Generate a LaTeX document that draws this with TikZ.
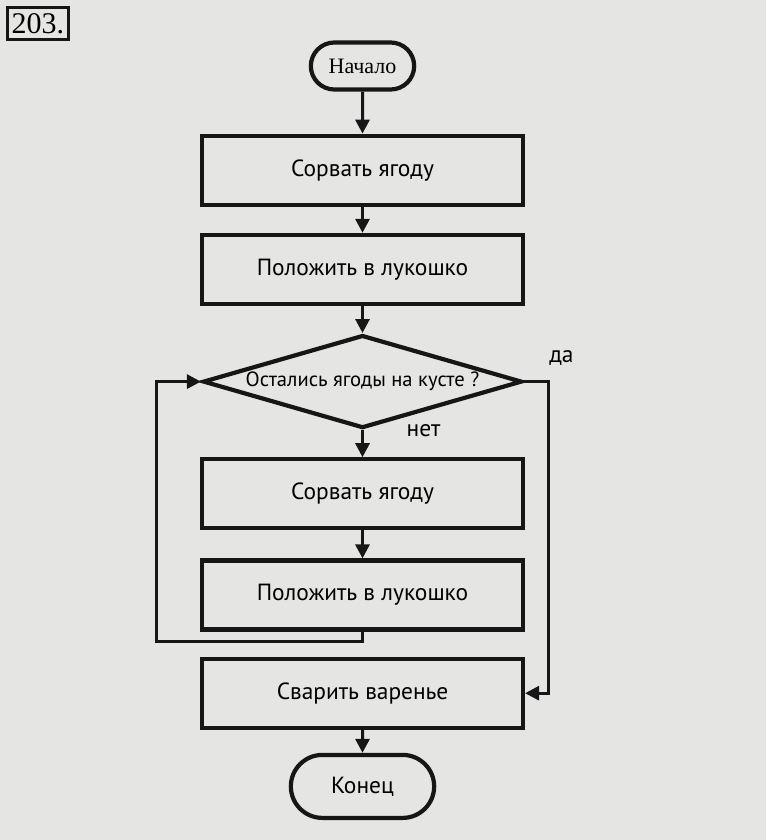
\documentclass[tikz,border=0pt]{standalone}
\usepackage{fontspec}
\setmainfont{PT Sans}
\newfontfamily\serifrm{Liberation Serif}
\usetikzlibrary{positioning,shapes.geometric,shapes.misc,arrows.meta}
\definecolor{paper}{RGB}{229,229,227}
\definecolor{ink}{RGB}{22,22,22}

\begin{document}
\begin{tikzpicture}[x=1pt, y=1pt, node distance=27pt, font=\fontsize{23.4}{26}\selectfont,
    blk/.style={draw=ink, line width=4.2pt, minimum width=321pt,
                minimum height=69pt, text centered},
    term/.style={draw=ink, rounded rectangle, line width=4.2pt,
                 minimum width=110pt, minimum height=47pt},
    cond/.style={draw=ink, diamond, line width=4.2pt, aspect=3.3, inner sep=0pt,
                 minimum width=319pt, minimum height=93pt},
    lbl/.style={inner sep=0pt},
    arr/.style={draw=ink, line width=3pt, -{Triangle[length=14pt, width=14pt]}}]
  \fill[paper] (0,0) rectangle (766,-840);
  \useasboundingbox (0,0) rectangle (766,-840);

  \node[draw=ink, line width=2.8pt, inner sep=0pt, minimum width=61pt, minimum height=32pt,
        font=\serifrm\fontsize{30}{30}\selectfont] (num) at (38,-23.5) {203.};

  \node[term, font=\serifrm\fontsize{22}{24}\selectfont] (start) at (362.5,-66) {Начало};
  \node[blk, below=42pt of start] (pick1) {Сорвать ягоду};
  \node[blk, below=26pt of pick1]  (put1)  {Положить в лукошко};
  \node[cond, below=of put1, font=\fontsize{20.6}{22}\selectfont] (chk) {Остались ягоды на кусте ?};
  \node[blk, below=of chk]         (pick2) {Сорвать ягоду};
  \node[blk, below=28pt of pick2]  (put2)  {Положить в лукошко};
  \node[blk, below=25pt of put2]   (cook)  {Сварить варенье};
  \node[term, below=23pt of cook, minimum width=150pt, minimum height=63pt] (stop) {Конец};

  \node[lbl, above right=16pt and 25pt of chk.east] (yes) {да};
  \node[lbl, right=44pt of chk.south] (no) {нет};

  \foreach \a/\b in {start/pick1, pick1/put1, put1/chk, chk/pick2, pick2/put2, cook/stop}
    \draw[arr] (\a) -- (\b);
  \draw[arr] (put2.south) -- ++(0,-10) -- ++(-206,0) |- (chk.west);
  \draw[arr] (chk.east) -- ++(24,0) |- (cook.east);
\end{tikzpicture}
\end{document}
